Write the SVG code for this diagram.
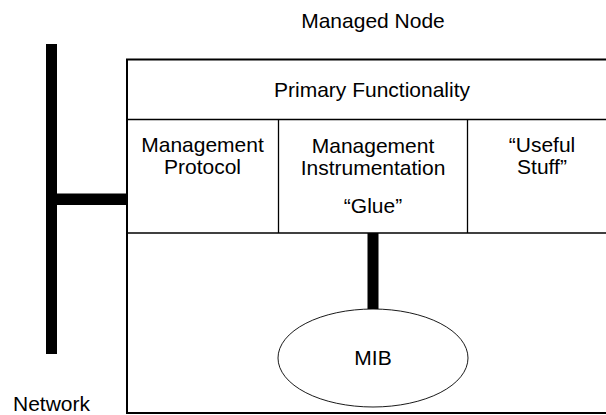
<svg xmlns="http://www.w3.org/2000/svg" width="606" height="415" viewBox="0 0 606 415">
  <style>
    text { font-family: "Liberation Sans", Arial, sans-serif; font-size: 21px; fill: #000; text-anchor: middle; }
    .thin { fill: none; stroke: #000; stroke-width: 1.3; }
    .bar { fill: #000; }
  </style>
  <rect width="606" height="415" fill="#fff"/>
  <g id="managed-node">
    <text x="373" y="28">Managed Node</text>
    <line x1="127" y1="413" x2="127" y2="59" stroke="#000" stroke-width="2"/>
    <line x1="126" y1="59.5" x2="620" y2="59.5" stroke="#000" stroke-width="2.2"/>
    <line x1="126" y1="413" x2="620" y2="413" stroke="#000" stroke-width="2"/>
  </g>
  <g id="primary-functionality">
    <line class="thin" x1="127" y1="119.5" x2="620" y2="119.5"/>
    <text x="372" y="97">Primary Functionality</text>
  </g>
  <g id="management-protocol">
    <line class="thin" x1="127" y1="233" x2="620" y2="233"/>
    <text x="202.5" y="152">Management</text>
    <text x="202.5" y="173.5">Protocol</text>
  </g>
  <g id="management-instrumentation">
    <line class="thin" x1="278.5" y1="119.5" x2="278.5" y2="233"/>
    <text x="373" y="152.5">Management</text>
    <text x="373" y="174.5">Instrumentation</text>
    <text x="373" y="213">“Glue”</text>
  </g>
  <g id="useful-stuff">
    <line class="thin" x1="467.5" y1="119.5" x2="467.5" y2="233"/>
    <text x="542" y="152">“Useful</text>
    <text x="542" y="173.5">Stuff”</text>
  </g>
  <g id="network">
    <rect class="bar" x="46" y="44" width="11" height="310"/>
    <text x="51.5" y="411">Network</text>
  </g>
  <g id="mib">
    <ellipse cx="373" cy="358" rx="95" ry="49" fill="none" stroke="#000" stroke-width="0.9"/>
    <text x="373" y="365">MIB</text>
  </g>
  <g id="connectors">
    <rect class="bar" x="57" y="193.5" width="70" height="11.5"/>
    <rect class="bar" x="367.5" y="233" width="11" height="76"/>
  </g>
</svg>
